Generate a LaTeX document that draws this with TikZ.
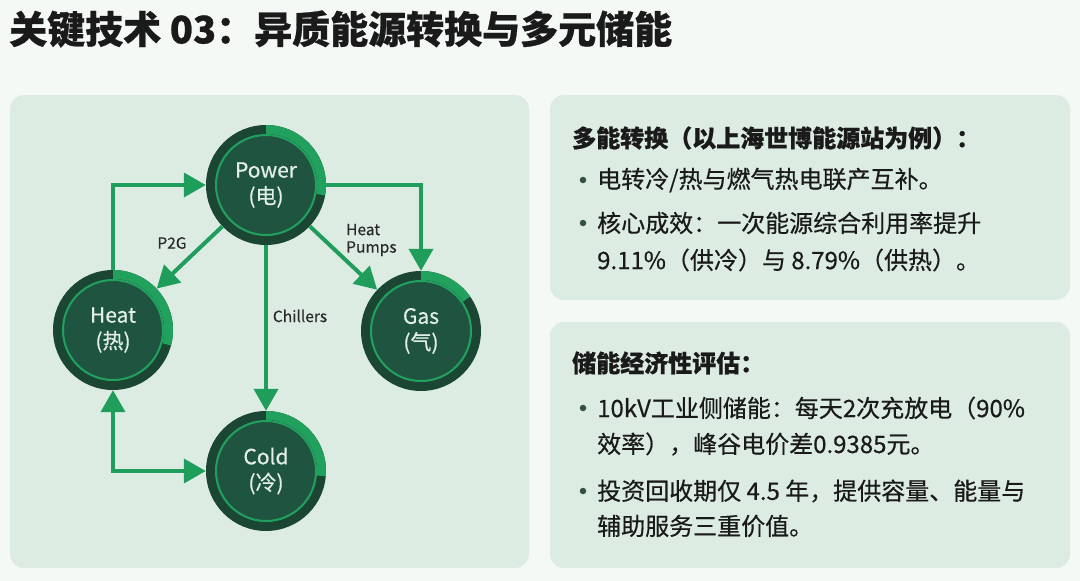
\documentclass[tikz,border=0pt]{standalone}
\usepackage{fontspec}
\setmainfont{Noto Sans CJK SC}[BoldFeatures={FakeBold=0.7}]
\newfontfamily\medfont{Noto Sans CJK SC}[FakeBold=0.45]
\usetikzlibrary{arrows.meta}
\definecolor{pagebg}{HTML}{F5F9F6}
\definecolor{panel}{HTML}{DCECE2}
\definecolor{ringdark}{HTML}{1B4633}
\definecolor{nodefill}{HTML}{1F5540}
\definecolor{bright}{HTML}{22A05E}
\definecolor{arrowc}{HTML}{1F9D5B}
\definecolor{ink}{HTML}{1A1A1A}
\definecolor{labelink}{HTML}{2A2A2A}
\definecolor{nodetext}{HTML}{E4EEE8}
\definecolor{dotc}{HTML}{34503F}
\newcommand{\ringdeco}[2]{%
  \begin{scope}[shift={#1}]
    \fill[ringdark] (0,0) circle[radius=60pt];
    \fill[bright] (90:60pt) arc[start angle=90,end angle=#2,radius=60pt] -- (#2:51pt) arc[start angle=#2,end angle=90,radius=51pt] -- cycle;
    \fill[nodefill] (0,0) circle[radius=51pt];
    \draw[bright,line width=2pt] (0,0) circle[radius=50pt];
  \end{scope}}
\tikzset{
  energy/.style={circle,minimum size=120pt,inner sep=0pt,text=nodetext,align=center,font=\medfont\fontsize{21}{26}\selectfont},
  conn/.style={draw=arrowc,line width=4pt,-{Triangle[length=22pt,width=24pt]}},
  conn2/.style={draw=arrowc,line width=4pt,{Triangle[length=22pt,width=24pt]}-{Triangle[length=22pt,width=24pt]}},
  elabel/.style={text=labelink,inner sep=0pt,font=\medfont\fontsize{15.5}{17.5}\selectfont},
  ptitle/.style={anchor=west,inner sep=0pt,text=ink,font=\bfseries\fontsize{24}{30}\selectfont},
  ptext/.style={anchor=west,inner sep=0pt,text=ink,font=\medfont\fontsize{24}{30}\selectfont},
  bdot/.style={circle,fill=dotc,inner sep=0pt,minimum size=6.5pt}
}
\begin{document}
\begin{tikzpicture}[x=1pt,y=-1pt]
\useasboundingbox (0,0) rectangle (1080,581);
\fill[pagebg] (0,0) rectangle (1080,581);
% title
\node[anchor=west,inner sep=0pt,text=ink,font=\bfseries\fontsize{38}{42}\selectfont] (title) at (9,29) {关键技术 03：异质能源转换与多元储能};
% panels
\fill[panel,rounded corners=14pt] (10,95) rectangle (529,568);
\fill[panel,rounded corners=14pt] (550,95) rectangle (1070,300);
\fill[panel,rounded corners=14pt] (550,322) rectangle (1070,568);
% ring decorations
\ringdeco{(266,185)}{-10}
\ringdeco{(113,330)}{-15}
\ringdeco{(421,331)}{35}
\ringdeco{(266,471)}{-5}
% nodes
\node[energy] (power) at (266,185) {Power\\(电)};
\node[energy] (heat) at (113,330) {Heat\\(热)};
\node[energy] (gas) at (421,331) {Gas\\(气)};
\node[energy] (cold) at (266,471) {Cold\\(冷)};
% connectors
\draw[conn] (heat.north) |- (power.west);
\draw[conn] (power.east) -| (gas.north);
\draw[conn] (power) -- (heat);
\draw[conn] (power) -- (gas);
\draw[conn] (power) -- (cold);
\draw[conn2] (heat.south) |- (cold.west);
% labels
\node[elabel] (lp2g) at (172,243) {P2G};
\node[elabel,anchor=west,align=left] (lhp) at (346,240) {Heat\\Pumps};
\node[elabel] (lch) at (300,316) {Chillers};
% right top panel
\node[ptitle] (t1) at (572,138) {多能转换（以上海世博能源站为例）：};
\node[bdot] (d1) at (583,180) {};
\node[ptext] (a1) at (597,180) {电转冷/热与燃气热电联产互补。};
\node[bdot] (d2) at (583,223) {};
\node[ptext] (a2) at (597,223) {核心成效：一次能源综合利用率提升};
\node[ptext] (a3) at (597,260) {9.11\%（供冷）与 8.79\%（供热）。};
% right bottom panel
\node[ptitle] (t2) at (572,363) {储能经济性评估：};
\node[bdot] (d3) at (583,408) {};
\node[ptext] (b1) at (597,408) {10kV工业侧储能：每天2次充放电（90\%};
\node[ptext] (b2) at (597,444) {效率），峰谷电价差0.9385元。};
\node[bdot] (d4) at (583,491) {};
\node[ptext] (b3) at (597,491) {投资回收期仅 4.5 年，提供容量、能量与};
\node[ptext] (b4) at (597,526) {辅助服务三重价值。};
\end{tikzpicture}
\end{document}
